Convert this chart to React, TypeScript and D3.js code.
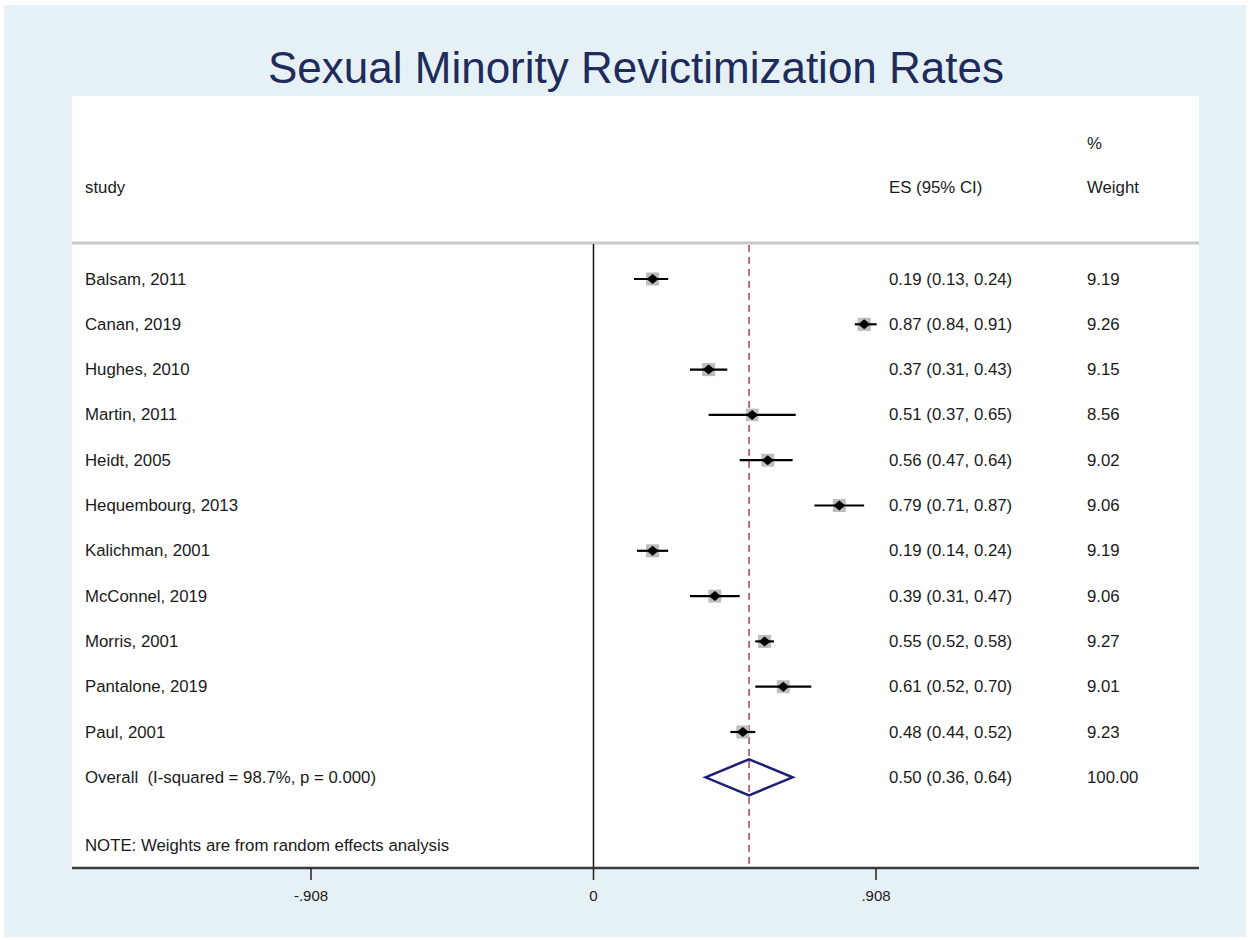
import React, { useEffect } from 'react';
import * as d3 from 'd3';

// study rows, top to bottom
const studies = [
  'Balsam, 2011', 'Canan, 2019', 'Hughes, 2010', 'Martin, 2011', 'Heidt, 2005',
  'Hequembourg, 2013', 'Kalichman, 2001', 'McConnel, 2019', 'Morris, 2001',
  'Pantalone, 2019', 'Paul, 2001',
];
const es = [0.19, 0.87, 0.37, 0.51, 0.56, 0.79, 0.19, 0.39, 0.55, 0.61, 0.48];
const lo = [0.13, 0.84, 0.31, 0.37, 0.47, 0.71, 0.14, 0.31, 0.52, 0.52, 0.44];
const hi = [0.24, 0.91, 0.43, 0.65, 0.64, 0.87, 0.24, 0.47, 0.58, 0.70, 0.52];
const weights = [9.19, 9.26, 9.15, 8.56, 9.02, 9.06, 9.19, 9.06, 9.27, 9.01, 9.23];

const overall = { es: 0.5, lo: 0.36, hi: 0.64, weight: 100 };
const overallLabel = 'Overall  (I-squared = 98.7%, p = 0.000)';
const note = 'NOTE: Weights are from random effects analysis';
const xTicks = [-0.908, 0, 0.908];
const xTickLabels = ['-.908', '0', '.908'];

const W = 1250;
const H = 940;
const plotL = 72;
const plotR = 1199;
const plotT = 96;
const axisY = 868;
const headY = 243;
const font = '"Liberation Sans", Arial, Helvetica, sans-serif';

const fmt = d3.format('.2f');

export default function App() {
  useEffect(() => {
    document.body.style.margin = '0';
  }, []);

  const x = d3.scaleLinear().domain([-0.908, 0.908]).range([311, 876]);
  const y = d3.scaleLinear().domain([0, 10]).range([279, 732]);
  const side = (w: number) => 4.3 * Math.sqrt(w);

  const oy = y(studies.length);
  const dh = 18;
  const diamond = d3.line()([
    [x(overall.lo), oy],
    [x(overall.es), oy - dh],
    [x(overall.hi), oy],
    [x(overall.es), oy + dh],
  ]) + 'Z';

  const textProps = {
    fontFamily: font, fontSize: 16.8, fill: '#1a1a1a',
    dominantBaseline: 'central' as const, style: { whiteSpace: 'pre' as const },
  };
  const esX = 889;
  const wX = 1087;

  return (
    <svg width={W} height={H} style={{ display: 'block' }}>
      <rect x={0} y={0} width={W} height={H} fill="#ffffff" />
      <rect x={4} y={5} width={W - 8} height={H - 8} fill="#e5f1f4" />
      <rect x={plotL} y={plotT} width={plotR - plotL} height={axisY - plotT} fill="#ffffff" />

      <text x={636} y={67} textAnchor="middle" dominantBaseline="central"
        fontFamily={font} fontSize={44} fill="#1f2b5b">
        Sexual Minority Revictimization Rates
      </text>

      {/* header */}
      <text {...textProps} x={85} y={187}>study</text>
      <text {...textProps} x={esX} y={187}>ES (95% CI)</text>
      <text {...textProps} x={wX} y={143}>%</text>
      <text {...textProps} x={wX} y={187}>Weight</text>
      <line x1={plotL} x2={plotR} y1={headY} y2={headY} stroke="#c9c9c9" strokeWidth={3} />

      {/* reference lines */}
      <line x1={x(0)} x2={x(0)} y1={headY + 1} y2={axisY} stroke="#111" strokeWidth={1.5} />
      <line x1={x(overall.es)} x2={x(overall.es)} y1={headY + 2} y2={axisY}
        stroke="#9a4a5c" strokeWidth={1.5} strokeDasharray="7,5" />

      {studies.map((s, i) => {
        const cy = y(i);
        const cx = x(es[i]);
        const sq = side(weights[i]);
        return (
          <g key={s}>
            <text {...textProps} x={85} y={cy}>{s}</text>
            <rect x={cx - sq / 2} y={cy - sq / 2} width={sq} height={sq} fill="#bdbdbd" />
            <line x1={x(lo[i])} x2={x(hi[i])} y1={cy} y2={cy} stroke="#000" strokeWidth={2.2} />
            <path d={`M${cx - 6},${cy}L${cx},${cy - 5}L${cx + 6},${cy}L${cx},${cy + 5}Z`} fill="#000" />
            <text {...textProps} x={esX} y={cy}>{`${fmt(es[i])} (${fmt(lo[i])}, ${fmt(hi[i])})`}</text>
            <text {...textProps} x={wX} y={cy}>{fmt(weights[i])}</text>
          </g>
        );
      })}

      {/* overall */}
      <text {...textProps} x={85} y={oy}>{overallLabel}</text>
      <path d={diamond} fill="none" stroke="#1c1f73" strokeWidth={2.5} />
      <text {...textProps} x={esX} y={oy}>{`${fmt(overall.es)} (${fmt(overall.lo)}, ${fmt(overall.hi)})`}</text>
      <text {...textProps} x={wX} y={oy}>{fmt(overall.weight)}</text>
      <text {...textProps} x={85} y={y(12.5)}>{note}</text>

      {/* axis */}
      <line x1={plotL} x2={plotR} y1={axisY} y2={axisY} stroke="#3a3a3a" strokeWidth={2.5} />
      {xTicks.map((t, i) => (
        <g key={t}>
          <line x1={x(t)} x2={x(t)} y1={axisY} y2={axisY + 12} stroke="#222" strokeWidth={1.5} />
          <text x={x(t)} y={axisY + 27} textAnchor="middle" dominantBaseline="central"
            fontFamily={font} fontSize={15} fill="#1a1a1a">{xTickLabels[i]}</text>
        </g>
      ))}
    </svg>
  );
}
